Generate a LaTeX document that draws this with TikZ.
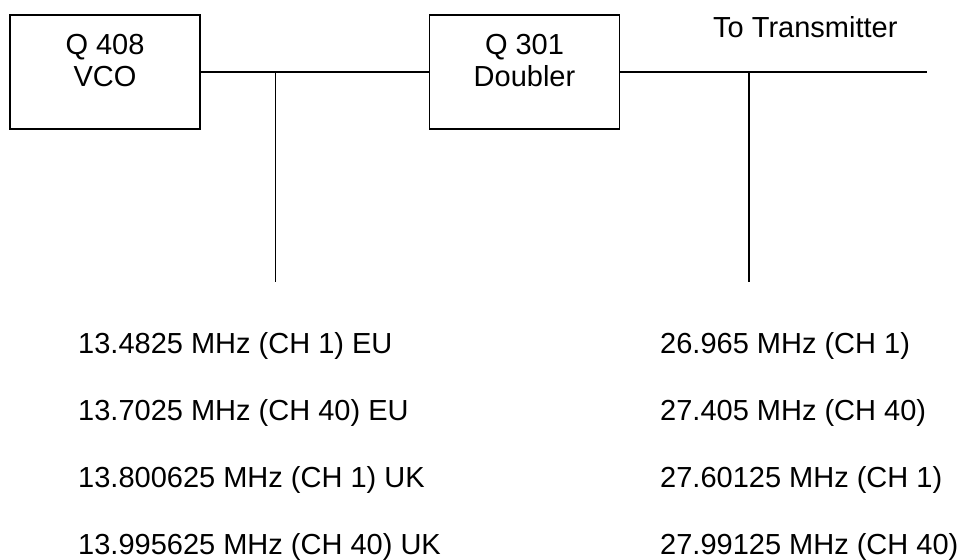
\documentclass[tikz,border=0pt]{standalone}
\usepackage{fontspec}
\setmainfont{Liberation Sans}
\begin{document}
\begin{tikzpicture}[x=1pt,y=-1pt,
  blk/.style={draw=black, line width=1.3pt, minimum width=190pt, minimum height=114pt, inner sep=0pt},
  txt/.style={font=\fontsize{29}{32}\selectfont, inner sep=0pt},
  wire/.style={line width=1.3pt}]
\useasboundingbox (0,0) rectangle (962,560);
\node[blk] (vco) at (105,72) {};
\node[blk] (dbl) at (524.5,72) {};
\node[txt, anchor=base] (vcoa) at (105,54) {Q 408};
\node[txt, anchor=base] (vcob) at (105,86) {VCO};
\node[txt, anchor=base] (dbla) at (524.5,54) {Q 301};
\node[txt, anchor=base] (dblb) at (524.5,86) {Doubler};
\node[txt, anchor=base west] (tx) at (713,37) {To Transmitter};
\coordinate (j1) at (275.5,72);
\coordinate (j1b) at (275.5,282);
\coordinate (j2) at (749,72);
\coordinate (j2b) at (749,282);
\coordinate (out) at (927,72);
\draw[wire] (vco.east) -- (dbl.west);
\draw[wire] (j1) -- (j1b);
\draw[wire] (dbl.east) -- (out);
\draw[wire] (j2) -- (j2b);
\node[txt, anchor=base west] (l1) at (78,353) {13.4825 MHz (CH 1) EU};
\node[txt, anchor=base west] (l2) at (78,420) {13.7025 MHz (CH 40) EU};
\node[txt, anchor=base west] (l3) at (78,487) {13.800625 MHz (CH 1) UK};
\node[txt, anchor=base west] (l4) at (78,554) {13.995625 MHz (CH 40) UK};
\node[txt, anchor=base west] (r1) at (660,353) {26.965 MHz (CH 1)};
\node[txt, anchor=base west] (r2) at (660,420) {27.405 MHz (CH 40)};
\node[txt, anchor=base west] (r3) at (660,487) {27.60125 MHz (CH 1)};
\node[txt, anchor=base west] (r4) at (660,554) {27.99125 MHz (CH 40)};
\end{tikzpicture}
\end{document}
